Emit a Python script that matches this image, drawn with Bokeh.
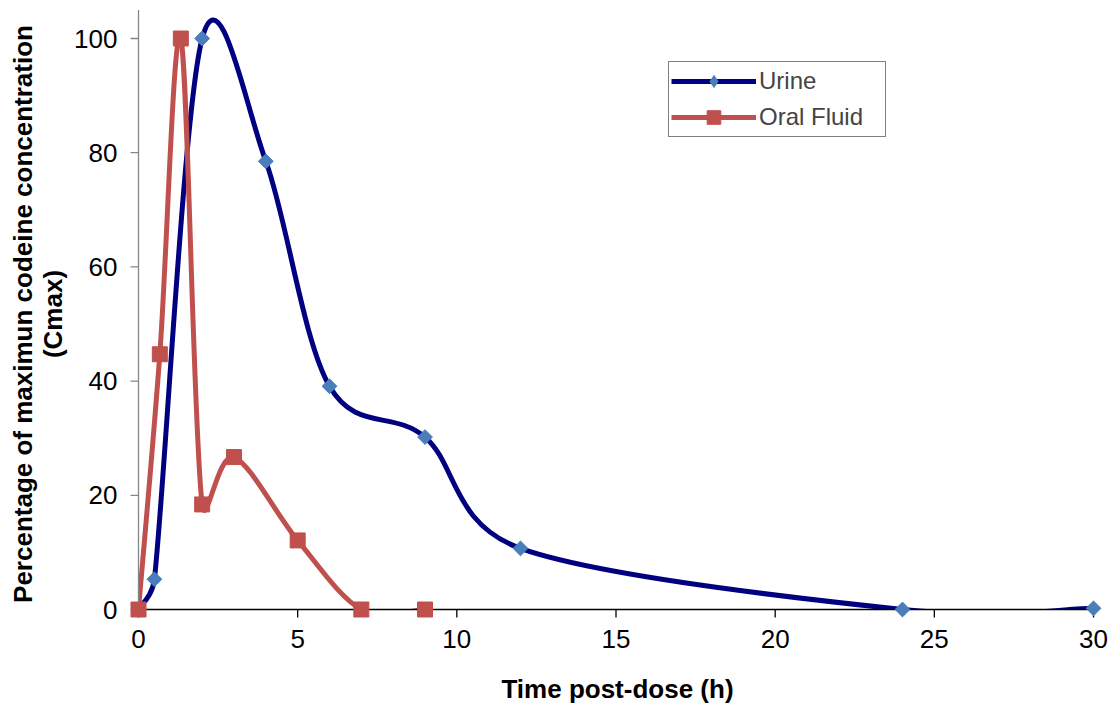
import math
from bokeh.plotting import figure
from bokeh.models import Range1d, FixedTicker, Legend, LegendItem, ColumnDataSource
from bokeh.embed import file_html
from bokeh.resources import INLINE

# ---- data ----
urine_t = [0, 0.5, 2, 4, 6, 9, 12, 24, 30]
urine_pct = [0, 5.3, 100, 78.5, 39.1, 30.2, 10.7, 0, 0.2]
oral_t = [0, 0.67, 1.33, 2, 3, 5, 7, 9]
oral_pct = [0, 44.7, 100, 18.4, 26.7, 12.1, 0, 0]
x_ticks = [0, 5, 10, 15, 20, 25, 30]
y_ticks = [0, 20, 40, 60, 80, 100]
x_axis_max = 30
y_axis_max = 105

FONT = "Liberation Sans"
URINE_LINE = "#000080"
URINE_MARK = "#4A7EBB"
ORAL = "#C0504D"

# pixel scale of the plot area (used for smoothing and tick lengths)
PX_X = 955 / 30.0
PX_Y = 571 / 100.0
X_START = (122 - 138) / PX_X
X_END = (1112 - 138) / PX_X
Y_END = (609 - 5) / PX_Y
Y_START = -(622 - 609) / PX_Y


def smooth_segments(xs, ys):
    """Cubic Bezier segments through the points (spreadsheet-style smoothing)."""
    n = len(xs)
    fwd, bwd = [], []
    for i in range(n):
        pm = max(i - 1, 0)
        pp = min(i + 1, n - 1)
        tx = (xs[pp] - xs[pm]) * PX_X / 6
        ty = (ys[pp] - ys[pm]) * PX_Y / 6
        tl = math.hypot(tx, ty) or 1.0
        dn = math.hypot((xs[pp] - xs[i]) * PX_X, (ys[pp] - ys[i]) * PX_Y)
        dp = math.hypot((xs[i] - xs[pm]) * PX_X, (ys[i] - ys[pm]) * PX_Y)
        sf = min(1.0, 0.5 * dn / tl)
        sb = min(1.0, 0.5 * dp / tl)
        fwd.append((xs[i] + sf * tx / PX_X, ys[i] + sf * ty / PX_Y))
        bwd.append((xs[i] - sb * tx / PX_X, ys[i] - sb * ty / PX_Y))
    out = dict(x0=[], y0=[], x1=[], y1=[], cx0=[], cy0=[], cx1=[], cy1=[])
    for i in range(n - 1):
        out["x0"].append(xs[i]); out["y0"].append(ys[i])
        out["x1"].append(xs[i + 1]); out["y1"].append(ys[i + 1])
        out["cx0"].append(fwd[i][0]); out["cy0"].append(fwd[i][1])
        out["cx1"].append(bwd[i + 1][0]); out["cy1"].append(bwd[i + 1][1])
    return ColumnDataSource(out)


p = figure(width=1115, height=708, output_backend="svg", toolbar_location=None,
           x_range=Range1d(X_START, X_END), y_range=Range1d(Y_START, Y_END),
           min_border_left=122, min_border_right=3, min_border_top=5, min_border_bottom=86)
p.outline_line_color = None
p.grid.visible = False
p.background_fill_color = "white"
p.border_fill_color = "white"

u_src = smooth_segments(urine_t, urine_pct)
o_src = smooth_segments(oral_t, oral_pct)

bz = dict(x0="x0", y0="y0", x1="x1", y1="y1", cx0="cx0", cy0="cy0", cx1="cx1", cy1="cy1")
r_ul = p.bezier(**bz, source=u_src, line_color=URINE_LINE, line_width=5)
r_ol = p.bezier(**bz, source=o_src, line_color=ORAL, line_width=5)

# plot-area clipping of the smoothed lines (white outside x>=0, y>=0)
p.quad(left=[X_START], right=[0], bottom=[Y_START], top=[Y_END],
       fill_color="white", line_color=None)
p.quad(left=[X_START], right=[X_END], bottom=[Y_START], top=[0],
       fill_color="white", line_color=None)

# axis lines and tick marks at x=0 / y=0
tick_len = 8
p.segment(x0=[0], y0=[0], x1=[x_axis_max], y1=[0], line_color="black", line_width=1.3)
p.segment(x0=[0], y0=[0], x1=[0], y1=[y_axis_max], line_color="#868686", line_width=1.3)
p.segment(x0=x_ticks, y0=[0] * len(x_ticks), x1=x_ticks,
          y1=[-tick_len / PX_Y] * len(x_ticks), line_color="black", line_width=1.3)
p.segment(x0=[0] * len(y_ticks), y0=y_ticks, x1=[-tick_len / PX_X] * len(y_ticks),
          y1=y_ticks, line_color="#868686", line_width=1.3)

# diamond used for the legend (hidden under the rotated squares in the plot)
r_ud = p.scatter(urine_t, urine_pct, marker="diamond", size=13,
                 fill_color=URINE_MARK, line_color=None)
r_um = p.scatter(urine_t, urine_pct, marker="square", angle=math.pi / 4, size=10.5,
                 fill_color=URINE_MARK, line_color=URINE_MARK)
r_om = p.scatter(oral_t, oral_pct, marker="square", size=15, fill_color=ORAL, line_color=ORAL)

# built-in axes: labels only
p.xaxis.ticker = FixedTicker(ticks=x_ticks)
p.yaxis.ticker = FixedTicker(ticks=y_ticks)
for ax in (p.xaxis, p.yaxis):
    ax.axis_line_color = None
    ax.major_tick_line_color = None
    ax.minor_tick_line_color = None
    ax.major_tick_out = 0
    ax.major_tick_in = 0
    ax.major_label_text_font = FONT
    ax.major_label_text_font_size = "26px"
    ax.major_label_text_color = "black"
    ax.axis_label_text_font = FONT
    ax.axis_label_text_font_size = "26px"
    ax.axis_label_text_font_style = "bold"
    ax.axis_label_text_color = "black"
    ax.axis_label_text_line_height = 1.0
p.xaxis.major_label_standoff = 7
p.yaxis.major_label_standoff = 5
p.xaxis.axis_label = "Time post-dose (h)"
p.yaxis.axis_label = "Percentage of maximun codeine concentration\n(Cmax)"
p.xaxis.axis_label_standoff = 23
p.yaxis.axis_label_standoff = 3

legend = Legend(items=[LegendItem(label="Urine", renderers=[r_ul, r_ud]),
                       LegendItem(label="Oral Fluid", renderers=[r_ol, r_om])],
                location=(546, 485))
legend.label_text_font = FONT
legend.label_text_font_size = "24px"
legend.glyph_width = 85
legend.glyph_height = 34
legend.label_height = 34
legend.label_width = 124
legend.label_standoff = 3
legend.padding = 2
legend.spacing = 2
legend.margin = 0
legend.border_line_color = "black"
legend.border_line_width = 1
legend.background_fill_alpha = 1
p.add_layout(legend, "center")

open("out.html", "w").write(file_html(p, INLINE))
